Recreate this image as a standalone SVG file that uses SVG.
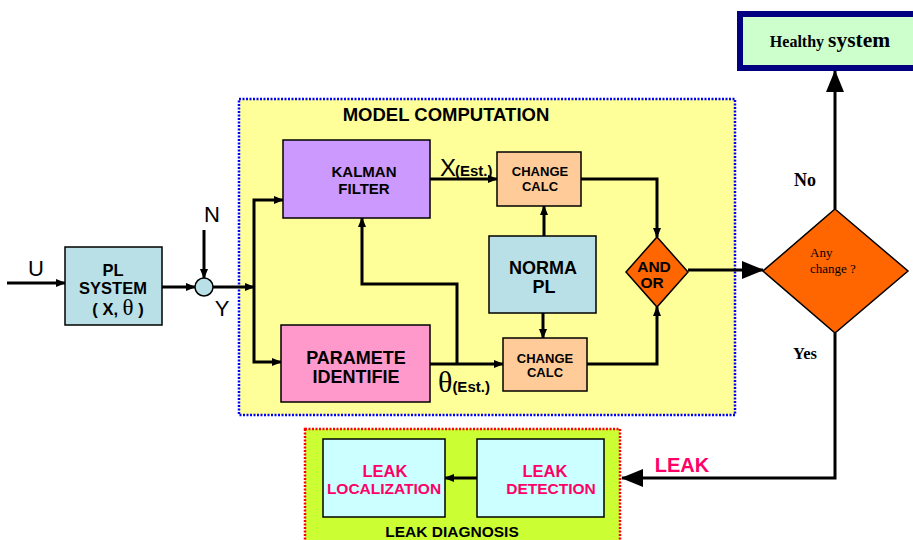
<svg xmlns="http://www.w3.org/2000/svg" width="913" height="540" viewBox="0 0 913 540">
<style>
.b{font-family:"Liberation Sans",Arial,sans-serif;font-weight:bold;text-anchor:middle;fill:#000}
.s{font-family:"Liberation Serif","Times New Roman",serif}
.box{stroke:#000;stroke-width:1.5}
.ln{fill:none;stroke:#000;stroke-width:3}
.pk{fill:#FF0066}
</style>
<defs>
<marker id="a" markerWidth="10" markerHeight="8" refX="9" refY="4" orient="auto" markerUnits="userSpaceOnUse">
<path d="M0,0 L10,4 L0,8 Z" fill="#000"/>
</marker>
<marker id="A" markerWidth="22" markerHeight="18" refX="21" refY="9" orient="auto" markerUnits="userSpaceOnUse">
<path d="M0,0 L22,9 L0,18 Z" fill="#000"/>
</marker>
</defs>
<rect width="913" height="540" fill="#fff"/>

<g id="model-computation">
<rect x="239" y="99" width="496" height="316" fill="#FFFF99" stroke="#0000FF" stroke-width="2.5" stroke-dasharray="2 1.5"/>
<text class="b" x="446" y="121" font-size="18.5">MODEL COMPUTATION</text>
</g>
<g id="leak-diagnosis">
<rect x="305" y="429" width="315" height="113" fill="#CCFF33" stroke="#FF0000" stroke-width="2.5" stroke-dasharray="2 1.5"/>
<text class="b" x="452" y="537" font-size="15.5">LEAK DIAGNOSIS</text>
</g>

<g id="connectors">
<line class="ln" x1="7" y1="283" x2="65" y2="283" stroke-width="2.5" marker-end="url(#a)"/>
<line class="ln" x1="162" y1="287" x2="195" y2="287" marker-end="url(#a)"/>
<line class="ln" x1="204" y1="230" x2="204" y2="278" stroke-width="2.5" marker-end="url(#a)"/>
<line class="ln" x1="213" y1="287" x2="254" y2="287" marker-end="url(#a)"/>
<polyline class="ln" points="254,287 254,200 283,200" stroke-width="2.5" marker-end="url(#a)"/>
<polyline class="ln" points="254,287 254,362 281,362" stroke-width="2.5" marker-end="url(#a)"/>
<line class="ln" x1="430" y1="179" x2="497" y2="179" marker-end="url(#a)"/>
<line class="ln" x1="430" y1="364" x2="503" y2="364" marker-end="url(#a)"/>
<polyline class="ln" points="457,364 457,284 362,284 362,218" marker-end="url(#a)"/>
<line class="ln" x1="544" y1="236" x2="544" y2="206" marker-end="url(#a)"/>
<line class="ln" x1="543" y1="313" x2="543" y2="338" marker-end="url(#a)"/>
<polyline class="ln" points="581,179 657,179 657,237" marker-end="url(#a)"/>
<polyline class="ln" points="587,364 657,364 657,307" marker-end="url(#a)"/>
<line class="ln" x1="688" y1="270" x2="763" y2="270" stroke-width="4" marker-end="url(#A)"/>
<line class="ln" x1="835" y1="209" x2="835" y2="71" stroke-width="4" marker-end="url(#A)"/>
<polyline class="ln" points="835,333 835,478 622,478" stroke-width="4" marker-end="url(#A)"/>
<line class="ln" x1="477" y1="478" x2="445" y2="478" stroke-width="2.5" marker-end="url(#a)"/>
</g>

<g id="pl-system">
<rect class="box" x="65" y="247" width="97" height="78" fill="#B8E0E6"/>
<text class="b" x="113" y="276" font-size="16.5">PL</text>
<text class="b" x="113" y="294" font-size="16.5">SYSTEM</text>
<text class="b" x="118" y="315" font-size="16.5">( X, <tspan class="s" font-weight="normal" font-size="23">θ</tspan> )</text>
</g>
<text x="36" y="276" font-family="Liberation Sans,Arial,sans-serif" font-size="22" text-anchor="middle">U</text>
<g id="sum">
<circle cx="204" cy="287" r="9" fill="#B8E0E6" stroke="#000" stroke-width="1.5"/>
</g>
<text x="212" y="222" font-family="Liberation Sans,Arial,sans-serif" font-size="22" text-anchor="middle">N</text>
<text x="222" y="316" font-family="Liberation Sans,Arial,sans-serif" font-size="22" text-anchor="middle">Y</text>

<g id="kalman">
<rect class="box" x="283" y="140" width="147" height="78" fill="#CC99FF"/>
<text class="b" x="364" y="177" font-size="15">KALMAN</text>
<text class="b" x="364" y="194" font-size="15">FILTER</text>
</g>
<text x="440" y="176" font-family="Liberation Sans,Arial,sans-serif" font-size="24">X<tspan font-weight="bold" font-size="15" dx="-1">(Est.)</tspan></text>

<g id="param">
<rect class="box" x="281" y="325" width="149" height="77" fill="#FF99CC"/>
<text class="b" x="356" y="364" font-size="18">PARAMETE</text>
<text class="b" x="356" y="383" font-size="18">IDENTIFIE</text>
</g>
<text x="438" y="392" class="s" font-size="30">θ<tspan font-family="Liberation Sans,Arial,sans-serif" font-weight="bold" font-size="15">(Est.)</tspan></text>

<g id="change1">
<rect class="box" x="497" y="152" width="84" height="54" fill="#FFCC99"/>
<text class="b" x="540" y="176" font-size="13">CHANGE</text>
<text class="b" x="540" y="191" font-size="13">CALC</text>
</g>
<g id="norma">
<rect class="box" x="489" y="236" width="107" height="77" fill="#B8E0E6"/>
<text class="b" x="543" y="274" font-size="18">NORMA</text>
<text class="b" x="544" y="293" font-size="18">PL</text>
</g>
<g id="change2">
<rect class="box" x="503" y="338" width="84" height="53" fill="#FFCC99"/>
<text class="b" x="545" y="363" font-size="13">CHANGE</text>
<text class="b" x="545" y="377" font-size="13">CALC</text>
</g>
<g id="andor">
<polygon points="657,237 688,272 657,307 626,272" fill="#FF6600" stroke="#000" stroke-width="1.5"/>
<text class="b" x="654" y="272" font-size="15.5">AND</text>
<text class="b" x="652" y="288" font-size="15.5">OR</text>
</g>

<g id="any-change">
<polygon points="835,209 908,271 835,333 763,271" fill="#FF6600" stroke="#000" stroke-width="1.5"/>
<text class="s" x="810" y="257" font-size="13">Any</text>
<text class="s" x="810" y="273" font-size="13">change ?</text>
</g>
<text class="s" x="805" y="186" font-size="18" font-weight="bold" text-anchor="middle">No</text>
<text class="s" x="805" y="359" font-size="16.5" font-weight="bold" text-anchor="middle">Yes</text>

<g id="healthy">
<rect x="740" y="14" width="178" height="54" fill="#CCFFCC" stroke="#000080" stroke-width="6"/>
<text class="s" x="830" y="47" font-weight="bold" text-anchor="middle" font-size="16">Healthy <tspan font-size="21.5">system</tspan></text>
</g>

<text class="b pk" x="682" y="472" font-size="20">LEAK</text>

<g id="leak-localization">
<rect class="box" x="323" y="439" width="122" height="78" fill="#CCFFFF"/>
<text class="b pk" x="385" y="477" font-size="16.5">LEAK</text>
<text class="b pk" x="384" y="494" font-size="15.5">LOCALIZATION</text>
</g>
<g id="leak-detection">
<rect class="box" x="477" y="439" width="127" height="78" fill="#CCFFFF"/>
<text class="b pk" x="545" y="477" font-size="16.5">LEAK</text>
<text class="b pk" x="551" y="494" font-size="15.5">DETECTION</text>
</g>
</svg>
